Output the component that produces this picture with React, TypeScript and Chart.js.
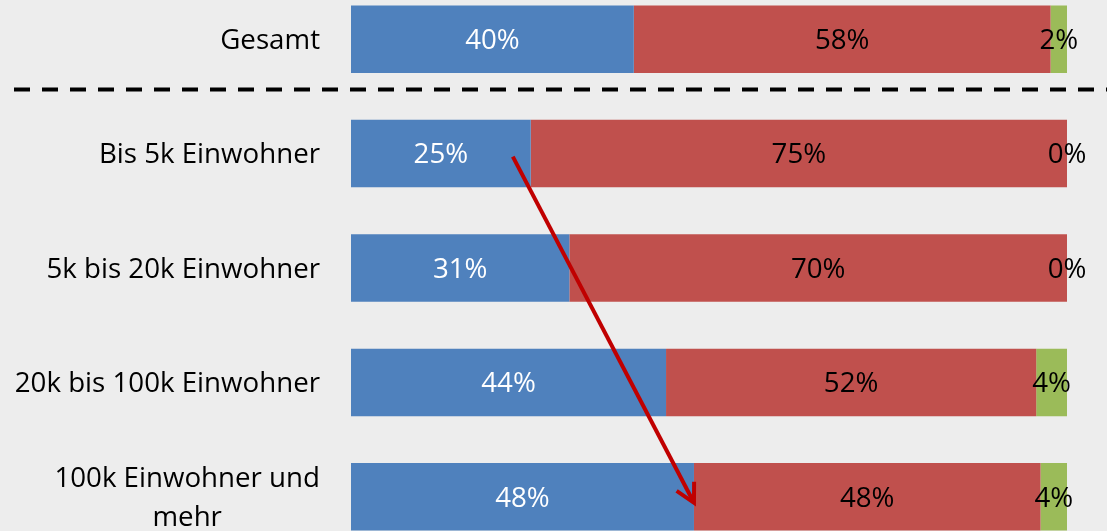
import React, { useEffect, useRef } from "react";
import { Chart, registerables } from "chart.js";

Chart.register(...registerables);

const categories: string[][] = [
  ["Gesamt"],
  ["Bis 5k Einwohner"],
  ["5k bis 20k Einwohner"],
  ["20k bis 100k Einwohner"],
  ["100k Einwohner und", "mehr"],
];
const seriesBlue = [39.5, 25.1, 30.5, 44.0, 47.9];
const seriesRed = [58.2, 74.9, 69.5, 51.7, 48.4];
const seriesGreen = [2.3, 0, 0, 4.3, 3.7];
const arrowStartValue = 22.6;

const FONT = '"Open Sans", sans-serif';
const BG = "#EDEDED";

export default function App() {
  const ref = useRef<HTMLCanvasElement | null>(null);

  useEffect(() => {
    document.body.style.background = BG;
    const canvas = ref.current;
    if (!canvas) return;

    const bgPlugin = {
      id: "bg",
      beforeDraw(chart: any) {
        const { ctx, width, height } = chart;
        ctx.save();
        ctx.fillStyle = BG;
        ctx.fillRect(0, 0, width, height);
        ctx.restore();
      },
    };

    const decorPlugin = {
      id: "decor",
      afterDatasetsDraw(chart: any) {
        const ctx = chart.ctx;
        const xs = chart.scales.x;
        const ys = chart.scales.y;
        ctx.save();
        // category labels
        ctx.font = `27.7px ${FONT}`;
        ctx.fillStyle = "#000";
        ctx.textBaseline = "middle";
        const rightEdge = 320;
        const lineH = 39;
        const textShift = 2;
        categories.forEach((lines, i) => {
          const cy = ys.getPixelForValue(i) + textShift;
          const widths = lines.map((l) => ctx.measureText(l).width);
          const maxW = Math.max(...widths);
          const centerX = rightEdge - maxW / 2;
          lines.forEach((l, j) => {
            const y = cy + (j - (lines.length - 1) / 2) * lineH;
            ctx.textAlign = "center";
            ctx.fillText(l, lines.length > 1 ? centerX : rightEdge - widths[j] / 2, y);
          });
        });

        // data labels
        chart.data.datasets.forEach((ds: any, di: number) => {
          const meta = chart.getDatasetMeta(di);
          meta.data.forEach((el: any, i: number) => {
            const v = ds.data[i];
            const x = (el.x + el.base) / 2;
            ctx.fillStyle = di === 0 ? "#FFFFFF" : "#000000";
            ctx.textAlign = "center";
            ctx.textBaseline = "middle";
            ctx.fillText(`${Math.round(v)}%`, x, el.y + textShift);
          });
        });

        // dashed separator
        const dy = ys.getPixelForValue(0.44);
        ctx.beginPath();
        ctx.setLineDash([16, 12]);
        ctx.lineWidth = 4;
        ctx.strokeStyle = "#000";
        ctx.moveTo(14, dy);
        ctx.lineTo(chart.width, dy);
        ctx.stroke();
        ctx.setLineDash([]);

        // arrow
        const sx = xs.getPixelForValue(arrowStartValue);
        const sy = ys.getPixelForValue(1) + 3;
        const ex = xs.getPixelForValue(seriesBlue[4]);
        const ey = ys.getPixelForValue(4) + 6;
        const ang = Math.atan2(ey - sy, ex - sx);
        const back = ang + Math.PI;
        const arm = 21;
        const spread = (28 * Math.PI) / 180;
        ctx.strokeStyle = "#C00000";
        ctx.lineWidth = 4;
        ctx.lineJoin = "miter";
        ctx.beginPath();
        ctx.moveTo(sx, sy);
        ctx.lineTo(ex, ey);
        ctx.stroke();
        ctx.beginPath();
        ctx.moveTo(ex + arm * Math.cos(back - spread), ey + arm * Math.sin(back - spread));
        ctx.lineTo(ex, ey);
        ctx.lineTo(ex + arm * Math.cos(back + spread), ey + arm * Math.sin(back + spread));
        ctx.stroke();
        ctx.restore();
      },
    };

    const chart = new Chart(canvas, {
      type: "bar",
      data: {
        labels: categories.map((c) => c.join(" ")),
        datasets: [
          { data: seriesBlue, backgroundColor: "#4F81BD", borderWidth: 0 },
          { data: seriesRed, backgroundColor: "#C0504D", borderWidth: 0 },
          { data: seriesGreen, backgroundColor: "#9BBB59", borderWidth: 0 },
        ],
      },
      options: {
        indexAxis: "y",
        animation: false,
        responsive: false,
        maintainAspectRatio: false,
        layout: { padding: { left: 351, right: 40, top: 0, bottom: 0 } },
        datasets: {
          bar: { categoryPercentage: 1, barPercentage: 0.59 },
        },
        scales: {
          x: { stacked: true, min: 0, max: 100, display: false },
          y: { stacked: true, display: false },
        },
        plugins: {
          legend: { display: false },
          tooltip: { enabled: false },
        },
      },
      plugins: [bgPlugin, decorPlugin],
    } as any);

    return () => chart.destroy();
  }, []);

  return (
    <div style={{ position: "absolute", left: 0, top: -18, width: 1107, height: 572 }}>
      <canvas ref={ref} width={1107} height={572} style={{ display: "block", width: 1107, height: 572 }} />
    </div>
  );
}
